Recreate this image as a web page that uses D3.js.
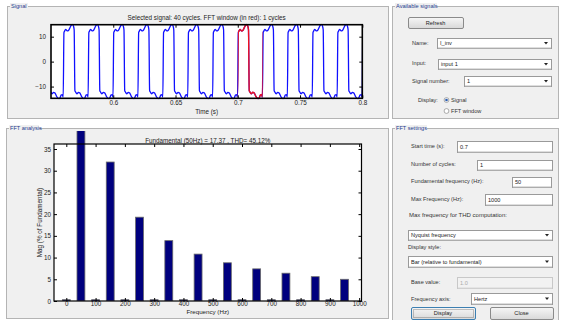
<!DOCTYPE html>
<html><head><meta charset="utf-8">
<script src="https://cdn.jsdelivr.net/npm/d3@7"></script>
<style>
body{margin:0;background:#fff;}
svg{display:block;font-family:"Liberation Sans",Arial,sans-serif;}
</style></head>
<body><svg id="c" width="561" height="320"></svg>
<script>
// ---------- data ----------
const signalTitle = "Selected signal: 40 cycles. FFT window (in red): 1 cycles";
const timeTicks = [0.6, 0.65, 0.7, 0.75, 0.8];
const timeTickLabels = ["0.6", "0.65", "0.7", "0.75", "0.8"];
const ampTicks = [-10, 0, 10];
const fftWindow = [0.7, 0.72];
// rising-edge times of each cycle (s)
const cycleStarts = [0.5398, 0.5598, 0.5798, 0.5998, 0.6198, 0.6398, 0.6598, 0.6798, 0.6998, 0.7198, 0.7398, 0.7598, 0.7798, 0.7998];
// one cycle of the waveform (time after rising edge, value)
const cycleOffsets = [0, 0.0006, 0.0010, 0.0020, 0.0032, 0.0044, 0.0056, 0.0066, 0.0074, 0.0082, 0.0088, 0.0094, 0.0099, 0.0110, 0.0122, 0.0134, 0.0146, 0.0158, 0.0168, 0.0176, 0.0184, 0.0192];
const cycleValues  = [-14.2, 11.6, 12.1, 12.9, 12.3, 12.6, 13.8, 14.7, 14.9, 14.3, 12.8, -11.6, -12.1, -12.9, -12.3, -12.6, -13.8, -14.7, -14.9, -14.3, -13.4, -13.2];

const fftTitle = "Fundamental (50Hz) = 17.37 , THD= 45.12%";
const freqs = [0, 50, 100, 150, 200, 250, 300, 350, 400, 450, 500, 550, 600, 650, 700, 750, 800, 850, 900, 950];
const mags  = [0.3, 100, 0.3, 32.0, 0.3, 19.3, 0.3, 13.9, 0.3, 10.8, 0.3, 8.8, 0.3, 7.4, 0.3, 6.4, 0.3, 5.6, 0.3, 5.0];
const freqTicks = [0, 100, 200, 300, 400, 500, 600, 700, 800, 900, 1000];
const magTicks = [0, 5, 10, 15, 20, 25, 30, 35];

// ---------- helpers ----------
const svg = d3.select("#c");
const defs = svg.append("defs");
const g1 = defs.append("linearGradient").attr("id","btn").attr("x1",0).attr("x2",0).attr("y1",0).attr("y2",1);
g1.append("stop").attr("offset","0%").attr("stop-color","#f6f6f6");
g1.append("stop").attr("offset","100%").attr("stop-color","#d8d8d8");

function panel(x, y, w, h, title, tw){
  svg.append("rect").attr("x",x+0.5).attr("y",y+0.5).attr("width",w).attr("height",h)
    .attr("fill","#f0f0f0").attr("stroke","#b4b4b4");
  svg.append("rect").attr("x",x+3).attr("y",y-3).attr("width",tw).attr("height",6).attr("fill","#f0f0f0");
  svg.append("text").attr("x",x+4).attr("y",y+2).attr("font-size",5.6).attr("fill","#1d3a8f").text(title);
}
svg.append("rect").attr("width",561).attr("height",320).attr("fill","#ffffff");
panel(7, 6, 381, 112, "Signal", 18);
panel(6, 128, 382, 190, "FFT analysis", 30);
panel(392, 6, 166, 112, "Available signals", 42);
panel(392, 128, 166, 200, "FFT settings", 32);

function styleAx(sel){ sel.select(".domain").remove(); sel.selectAll("line").attr("stroke","#000");
  sel.selectAll("text").attr("font-size",6.3).attr("fill","#222").attr("font-family","Liberation Sans, Arial, sans-serif"); }

// ---------- signal plot ----------
const sx = d3.scaleLinear().domain([0.55, 0.8]).range([51, 362.3]);
const sy = d3.scaleLinear().domain([-14.7, 14.8]).range([98.3, 24.7]);
const sp = svg.append("g");
sp.append("rect").attr("x",sx(0.55)).attr("y",sy(14.8)).attr("width",sx(0.8)-sx(0.55)).attr("height",sy(-14.7)-sy(14.8)).attr("fill","#fff");
defs.append("clipPath").attr("id","sclip").append("rect")
  .attr("x",sx(0.55)).attr("y",sy(14.8)-1).attr("width",sx(0.8)-sx(0.55)).attr("height",sy(-14.7)-sy(14.8)+2);
defs.append("clipPath").attr("id","rclip").append("rect")
  .attr("x",sx(fftWindow[0])).attr("y",sy(14.8)-1).attr("width",sx(fftWindow[1])-sx(fftWindow[0])).attr("height",sy(-14.7)-sy(14.8)+2);
const pts = cycleStarts.flatMap(s => cycleOffsets.map((o,i)=>[s+o, cycleValues[i]]));
const line = d3.line().x(d=>sx(d[0])).y(d=>sy(d[1])).curve(d3.curveMonotoneX);
sp.append("path").attr("d",line(pts)).attr("fill","none").attr("stroke","#1010ff").attr("stroke-width",1.3).attr("clip-path","url(#sclip)");
sp.append("path").attr("d",line(pts)).attr("fill","none").attr("stroke","#ee1020").attr("stroke-width",1.4).attr("clip-path","url(#rclip)");
const sxb = d3.axisBottom(sx).tickValues(timeTicks).tickFormat((d,i)=>timeTickLabels[i]).tickSizeInner(-3).tickSizeOuter(0).tickPadding(2.5);
const sxt = d3.axisTop(sx).tickValues(timeTicks).tickFormat("").tickSizeInner(-3).tickSizeOuter(0);
const syl = d3.axisLeft(sy).tickValues(ampTicks).tickSizeInner(-3).tickSizeOuter(0).tickPadding(5);
const syr = d3.axisRight(sy).tickValues(ampTicks).tickFormat("").tickSizeInner(-3).tickSizeOuter(0);
sp.append("g").attr("transform",`translate(0,${sy(-14.7)})`).call(sxb).call(styleAx);
sp.append("g").attr("transform",`translate(0,${sy(14.8)})`).call(sxt).call(styleAx);
sp.append("g").attr("transform",`translate(${sx(0.55)},0)`).call(syl).call(styleAx);
sp.append("g").attr("transform",`translate(${sx(0.8)},0)`).call(syr).call(styleAx);
sp.append("rect").attr("x",sx(0.55)).attr("y",sy(14.8)).attr("width",sx(0.8)-sx(0.55)).attr("height",sy(-14.7)-sy(14.8))
  .attr("fill","none").attr("stroke","#000").attr("stroke-width",1.6);
sp.append("text").attr("x",(sx(0.55)+sx(0.8))/2).attr("y",19.5).attr("text-anchor","middle").attr("font-size",6.3).attr("fill","#222").text(signalTitle);
sp.append("text").attr("x",(sx(0.55)+sx(0.8))/2).attr("y",114).attr("text-anchor","middle").attr("font-size",6.3).attr("fill","#222").text("Time (s)");

// ---------- FFT plot ----------
const fx = d3.scaleLinear().domain([-42, 1008]).range([54, 361.5]);
const fy = d3.scaleLinear().domain([0, 36.15]).range([301, 144]);
const fp = svg.append("g");
fp.append("rect").attr("x",fx(-42)).attr("y",fy(36.15)).attr("width",fx(1008)-fx(-42)).attr("height",fy(0)-fy(36.15)).attr("fill","#fff");
defs.append("clipPath").attr("id","fclip").append("rect").attr("x",0).attr("y",131).attr("width",561).attr("height",fy(0)-131);
const bw = 27;
fp.append("g").attr("clip-path","url(#fclip)").selectAll("rect").data(freqs).join("rect")
  .attr("x",(d)=>fx(d-bw/2)).attr("width",fx(bw)-fx(0))
  .attr("y",(d,i)=>fy(mags[i])).attr("height",(d,i)=>fy(0)-fy(mags[i]))
  .attr("fill","#00007e").attr("stroke","#6a6a6a").attr("stroke-width",0.8);
const fxb = d3.axisBottom(fx).tickValues(freqTicks).tickFormat(d3.format("d")).tickSizeInner(-3).tickSizeOuter(0).tickPadding(1);
const fxt = d3.axisTop(fx).tickValues(freqTicks).tickFormat("").tickSizeInner(-3).tickSizeOuter(0);
const fyl = d3.axisLeft(fy).tickValues(magTicks).tickSizeInner(-3).tickSizeOuter(0).tickPadding(3);
const fyr = d3.axisRight(fy).tickValues(magTicks).tickFormat("").tickSizeInner(-3).tickSizeOuter(0);
fp.append("g").attr("transform",`translate(0,${fy(0)})`).call(fxb).call(styleAx);
fp.append("g").attr("transform",`translate(0,${fy(36.15)})`).call(fxt).call(styleAx);
fp.append("g").attr("transform",`translate(${fx(-42)},0)`).call(fyl).call(styleAx);
fp.append("g").attr("transform",`translate(${fx(1008)},0)`).call(fyr).call(styleAx);
fp.append("rect").attr("x",fx(-42)).attr("y",fy(36.15)).attr("width",fx(1008)-fx(-42)).attr("height",fy(0)-fy(36.15))
  .attr("fill","none").attr("stroke","#000").attr("stroke-width",1.2);
fp.append("text").attr("x",(fx(-42)+fx(1008))/2).attr("y",142.5).attr("text-anchor","middle").attr("font-size",6.3).attr("fill","#222").text(fftTitle);
fp.append("text").attr("x",(fx(-42)+fx(1008))/2).attr("y",314).attr("text-anchor","middle").attr("font-size",6.2).attr("fill","#222").text("Frequency (Hz)");
fp.append("text").attr("transform",`translate(42,${(fy(0)+fy(36.15))/2}) rotate(-90)`).attr("text-anchor","middle").attr("font-size",6.3).attr("fill","#222").text("Mag (% of Fundamental)");

// ---------- controls ----------
const lab = (x,y,t,fs)=>svg.append("text").attr("x",x).attr("y",y).attr("font-size",fs||5.6).attr("fill","#333").text(t);
function box(x,y,w,h,t,disabled){
  svg.append("rect").attr("x",x+0.5).attr("y",y+0.5).attr("width",w).attr("height",h)
    .attr("fill",disabled?"#f2f2f2":"#fff").attr("stroke",disabled?"#c8c8c8":"#9a9a9a");
  svg.append("line").attr("x1",x+1).attr("x2",x+w).attr("y1",y+h).attr("y2",y+h).attr("stroke",disabled?"#d8d8d8":"#bdbdbd");
  svg.append("text").attr("x",x+3).attr("y",y+h/2+2).attr("font-size",5.6).attr("fill",disabled?"#aaa":"#222").text(t);
}
function drop(x,y,w,h,t){
  box(x,y,w,h,t);
  const ax=x+w-5, ay=y+h/2;
  svg.append("path").attr("d",`M${ax-2},${ay-1}L${ax+2},${ay-1}L${ax},${ay+1.5}Z`).attr("fill","#222");
}
function button(x,y,w,h,t,focus){
  svg.append("rect").attr("x",x+0.5).attr("y",y+0.5).attr("width",w).attr("height",h).attr("rx",1.5)
    .attr("fill","url(#btn)").attr("stroke",focus?"#3c7fb1":"#8a8a8a");
  if(focus) svg.append("rect").attr("x",x+2.5).attr("y",y+2.5).attr("width",w-4).attr("height",h-4)
    .attr("fill","none").attr("stroke","#444").attr("stroke-dasharray","1,1").attr("stroke-width",0.6);
  svg.append("text").attr("x",x+w/2).attr("y",y+h/2+2).attr("text-anchor","middle").attr("font-size",5.6).attr("fill","#222").text(t);
}
button(408,17,55,11,"Refresh");
lab(412,45,"Name:"); drop(437,38,114,10,"I_inv");
lab(412,65,"Input:"); drop(438,59,113,10,"input 1");
lab(412,83,"Signal number:"); drop(464,76,87,10,"1");
lab(418,102,"Display:");
svg.append("circle").attr("cx",446.5).attr("cy",100).attr("r",2.4).attr("fill","#fff").attr("stroke","#777").attr("stroke-width",0.6);
svg.append("circle").attr("cx",446.5).attr("cy",100).attr("r",1.3).attr("fill","#2a5db0");
lab(451,102,"Signal");
svg.append("circle").attr("cx",446.5).attr("cy",111).attr("r",2.4).attr("fill","#fff").attr("stroke","#777").attr("stroke-width",0.6);
lab(451,113,"FFT window");

lab(411,148,"Start time (s):"); box(457,141,95,11,"0.7");
lab(411,166,"Number of cycles:"); box(477,160,75,10,"1");
lab(411,183,"Fundamental frequency (Hz):"); box(512,177,39,10,"50");
lab(411,201,"Max Frequency (Hz):"); box(485,194,67,11,"1000");
lab(409,217,"Max frequency for THD computation:",6);
drop(408,230,144,10,"Nyquist frequency");
lab(408,249,"Display style:");
drop(408,256,144,11,"Bar (relative to fundamental)");
lab(411,284,"Base value:"); box(457,277,95,11,"1.0",true);
lab(411,301,"Frequency axis:"); drop(471,293,81,11,"Hertz");
button(411,307,64,12,"Display",true);
button(490,307,63,12,"Close");
</script></body></html>
